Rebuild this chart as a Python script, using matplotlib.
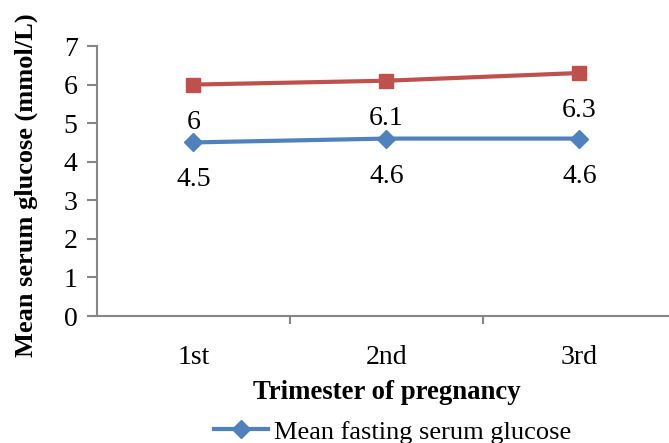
import matplotlib.pyplot as plt

plt.rcParams['font.family'] = ['Liberation Serif', 'DejaVu Serif']

trimesters = ['1st', '2nd', '3rd']
fasting = [4.5, 4.6, 4.6]
random_glucose = [6.0, 6.1, 6.3]
fasting_labels = ['4.5', '4.6', '4.6']
random_labels = ['6', '6.1', '6.3']

blue = '#4F81BD'
red = '#C0504D'
grey = '#868686'

fig = plt.figure(figsize=(6.69, 4.43), dpi=100)
ax = fig.add_axes([97 / 669, 127 / 443, 579 / 669, 270 / 443])

x = list(range(len(trimesters)))
ax.plot(x, fasting, color=blue, lw=3, marker='D', ms=9, label='Mean fasting serum glucose')
ax.plot(x, random_glucose, color=red, lw=3, marker='s', ms=10, label='Mean random serum glucose')

for xi, v, t in zip(x, fasting, fasting_labels):
    ax.annotate(t, (xi, v), xytext=(0, -27), textcoords='offset points',
                ha='center', va='center', fontsize=20)
for xi, v, t in zip(x, random_glucose, random_labels):
    ax.annotate(t, (xi, v), xytext=(0, -27), textcoords='offset points',
                ha='center', va='center', fontsize=20)

ax.set_xlim(-0.5, 2.5)
ax.set_ylim(0, 7)
ax.set_yticks(range(0, 8))
ax.set_xticks(x)
ax.set_xticklabels(trimesters)
ax.set_xticks([0.5, 1.5], minor=True)
ax.tick_params(axis='x', which='major', length=0, pad=21, labelsize=20)
ax.tick_params(axis='x', which='minor', length=6, color=grey, width=1.5)
ax.tick_params(axis='y', length=7, color=grey, width=1.5, labelsize=20, pad=7)

for s in ['top', 'right']:
    ax.spines[s].set_visible(False)
for s in ['left', 'bottom']:
    ax.spines[s].set_color(grey)
    ax.spines[s].set_linewidth(1.5)

ax.set_xlabel('Trimester of pregnancy', fontsize=19.3, fontweight='bold', labelpad=7)
ax.set_ylabel('Mean serum glucose (mmol/L)', fontsize=19, fontweight='bold')
ax.yaxis.set_label_coords(-59 / 579, 0.485)

fig.legend(loc='upper center', bbox_to_anchor=(397 / 669, 36 / 443), frameon=False,
           fontsize=19, ncol=1, handlelength=2.05, handletextpad=0.25, borderpad=0)

fig.savefig('out.png', dpi=100)
